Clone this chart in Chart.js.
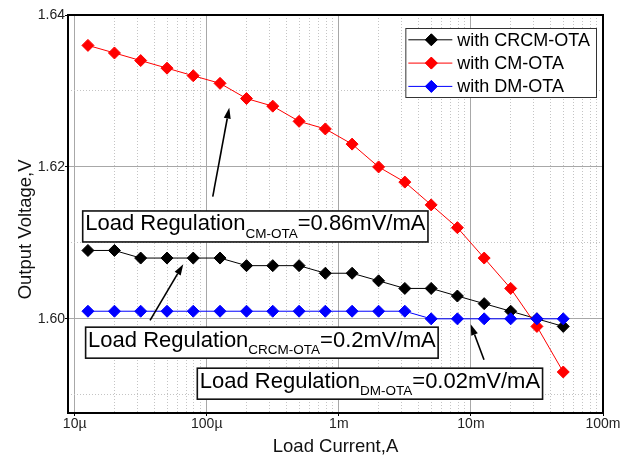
<!DOCTYPE html>
<html>
<head>
<meta charset="utf-8">
<script src="https://cdn.jsdelivr.net/npm/chart.js@4"></script>
<style>
  html, body { margin: 0; padding: 0; background: #fff; }
</style>
</head>
<body>
<canvas id="chart" width="633" height="459"></canvas>
<script>
// values (load current in A, output voltage in V)
const loadCurrent = [12.6e-6, 20e-6, 31.6e-6, 50e-6, 79e-6, 126e-6, 200e-6, 316e-6, 500e-6, 790e-6,
  1.26e-3, 2e-3, 3.16e-3, 5e-3, 7.9e-3, 12.6e-3, 20e-3, 31.6e-3, 50e-3];
const vCRCM = [1.609, 1.609, 1.608, 1.608, 1.608, 1.608, 1.607, 1.607, 1.607, 1.606,
  1.606, 1.605, 1.604, 1.604, 1.603, 1.602, 1.601, 1.600, 1.599];
const vCM = [1.636, 1.635, 1.634, 1.633, 1.632, 1.631, 1.629, 1.628, 1.626, 1.625,
  1.623, 1.620, 1.618, 1.615, 1.612, 1.608, 1.604, 1.599, 1.593];
const vDM = [1.601, 1.601, 1.601, 1.601, 1.601, 1.601, 1.601, 1.601, 1.601, 1.601,
  1.601, 1.601, 1.601, 1.600, 1.600, 1.600, 1.600, 1.600, 1.600];
const seriesNames = ['with CRCM-OTA', 'with CM-OTA', 'with DM-OTA'];
const seriesColors = ['#000000', '#ff0000', '#0000ff'];

const xTickValues = [1e-5, 1e-4, 1e-3, 1e-2, 1e-1];
const xTickLabels = ['10\u00b5', '100\u00b5', '1m', '10m', '100m'];
const yGridValues = [1.59, 1.60, 1.61, 1.62, 1.63, 1.64];
const yTickValues = [1.60, 1.62, 1.64];
const yTickLabels = ['1.60', '1.62', '1.64'];

const regulationNames = ['CM-OTA', 'CRCM-OTA', 'DM-OTA'];
const regulationValues = ['=0.86mV/mA', '=0.2mV/mA', '=0.02mV/mA'];

// where the callouts sit, in data coordinates (box top-left, arrow tail, arrow head)
const calloutPlaces = [
  { box: [11.5e-6, 1.6142], tail: [111e-6, 1.6161], head: [148e-6, 1.6278] },
  { box: [12.1e-6, 1.5989], tail: [37.2e-6, 1.5998], head: [66.4e-6, 1.6072] },
  { box: [84.8e-6, 1.5935], tail: [12.56e-3, 1.5946], head: [9.96e-3, 1.5993] }
];

const FONT = '"Liberation Sans", Arial, sans-serif';

const isDecade = v => Math.abs(Math.log10(v) - Math.round(Math.log10(v))) < 1e-6;
const isYMajor = v => yTickValues.some(t => Math.abs(t - v) < 1e-9);

function drawArrow(ctx, x1, y1, x2, y2) {
  const a = Math.atan2(y2 - y1, x2 - x1);
  const len = 11, hw = 3.5;
  const bx = x2 - Math.cos(a) * len, by = y2 - Math.sin(a) * len;
  ctx.beginPath();
  ctx.moveTo(x1, y1);
  ctx.lineTo(bx, by);
  ctx.stroke();
  ctx.beginPath();
  ctx.moveTo(x2, y2);
  ctx.lineTo(bx + Math.sin(a) * hw, by - Math.cos(a) * hw);
  ctx.lineTo(bx - Math.sin(a) * hw, by + Math.cos(a) * hw);
  ctx.closePath();
  ctx.fill();
}

const overlayPlugin = {
  id: 'overlay',
  afterDatasetsDraw(chart) {
    const { ctx, chartArea: area, scales: { x, y } } = chart;
    ctx.save();

    // frame round the plot
    ctx.strokeStyle = '#000';
    ctx.lineWidth = 2;
    ctx.strokeRect(area.left, area.top, area.right - area.left, area.bottom - area.top);

    // legend box inside the plot, top right
    ctx.font = '18px ' + FONT;
    const textW = Math.max(...chart.data.datasets.map(d => ctx.measureText(d.label).width));
    const lw = 52 + textW + 6, lh = 69;
    const lx = area.right - 7 - lw, ly = area.top + 13;
    ctx.fillStyle = '#fff';
    ctx.fillRect(lx, ly, lw, lh);
    ctx.strokeStyle = '#333';
    ctx.lineWidth = 1;
    ctx.strokeRect(lx + 0.5, ly + 0.5, lw, lh);
    chart.data.datasets.forEach((d, i) => {
      const ry = ly + 11.8 + i * 23.3;
      ctx.strokeStyle = d.borderColor;
      ctx.lineWidth = 1;
      ctx.beginPath();
      ctx.moveTo(lx + 3, ry);
      ctx.lineTo(lx + 47, ry);
      ctx.stroke();
      ctx.fillStyle = d.borderColor;
      Chart.helpers.drawPoint(ctx, { pointStyle: 'rectRot', radius: 6, borderWidth: 1 }, lx + 26, ry);
      ctx.fill();
      ctx.fillStyle = '#000';
      ctx.textBaseline = 'middle';
      ctx.textAlign = 'left';
      ctx.fillText(d.label, lx + 52, ry + 1);
    });

    // load regulation callouts
    ctx.textBaseline = 'alphabetic';
    regulationNames.forEach((name, i) => {
      const p = calloutPlaces[i];
      const bx = x.getPixelForValue(p.box[0]);
      const by = y.getPixelForValue(p.box[1]);
      ctx.font = '22px ' + FONT;
      const w1 = ctx.measureText('Load Regulation').width;
      const w3 = ctx.measureText(regulationValues[i]).width;
      ctx.font = '13.5px ' + FONT;
      const w2 = ctx.measureText(name).width;
      const bw = w1 + w2 + w3 + 5, bh = 31;
      ctx.fillStyle = '#fff';
      ctx.fillRect(bx, by, bw, bh);
      ctx.strokeStyle = '#111';
      ctx.lineWidth = 1.6;
      ctx.strokeRect(bx, by, bw, bh);
      ctx.fillStyle = '#000';
      const base = by + 19.5;
      ctx.font = '22px ' + FONT;
      ctx.fillText('Load Regulation', bx + 2.5, base);
      ctx.fillText(regulationValues[i], bx + 2.5 + w1 + w2, base);
      ctx.font = '13.5px ' + FONT;
      ctx.fillText(name, bx + 2.5 + w1, base + 7.5);

      ctx.strokeStyle = '#000';
      ctx.lineWidth = 1.6;
      drawArrow(ctx,
        x.getPixelForValue(p.tail[0]), y.getPixelForValue(p.tail[1]),
        x.getPixelForValue(p.head[0]), y.getPixelForValue(p.head[1]));
    });
    ctx.restore();
  }
};

const values = [vCRCM, vCM, vDM];
const datasets = values.map((vals, i) => ({
  label: seriesNames[i],
  data: loadCurrent.map((c, j) => ({ x: c, y: vals[j] })),
  borderColor: seriesColors[i],
  backgroundColor: seriesColors[i],
  borderWidth: 1,
  pointStyle: 'rectRot',
  pointRadius: 6,
  pointBorderWidth: 1,
  order: 3 - i
}));

new Chart(document.getElementById('chart'), {
  type: 'line',
  data: { datasets },
  options: {
    responsive: false,
    animation: false,
    devicePixelRatio: 1,
    layout: { padding: { top: 15, right: 30, left: 0, bottom: 0 } },
    plugins: {
      legend: { display: false },
      tooltip: { enabled: false }
    },
    scales: {
      x: {
        type: 'logarithmic',
        min: 8.9e-6,
        max: 0.1,
        afterBuildTicks: scale => {
          const ticks = [];
          xTickValues.forEach((d, k) => {
            ticks.push({ value: d });
            if (k < xTickValues.length - 1) {
              for (let m = 2; m <= 9; m++) ticks.push({ value: d * m });
            }
          });
          scale.ticks = ticks;
        },
        afterFit: scale => { scale.height = 46; },
        border: {
          display: false,
          dash: c => (c.tick && isDecade(c.tick.value)) ? [] : [1, 2]
        },
        grid: {
          color: c => (c.tick && isDecade(c.tick.value)) ? '#a8a8a8' : '#c4c4c4',
          tickColor: c => (c.tick && isDecade(c.tick.value)) ? '#000' : 'rgba(0,0,0,0)',
          tickLength: 3,
          lineWidth: 1
        },
        ticks: {
          autoSkip: false,
          maxRotation: 0,
          padding: 0,
          color: '#222',
          font: { family: FONT, size: 14 },
          callback: v => {
            const i = xTickValues.findIndex(t => Math.abs(t - v) / t < 1e-6);
            return i >= 0 ? xTickLabels[i] : '';
          }
        },
        title: {
          display: true,
          text: 'Load Current,A',
          color: '#111',
          font: { family: FONT, size: 18.5 },
          padding: { top: 0, bottom: 1 }
        }
      },
      y: {
        type: 'linear',
        min: 1.5876,
        max: 1.64,
        afterBuildTicks: scale => {
          scale.ticks = yGridValues.map(v => ({ value: v }));
        },
        afterFit: scale => { scale.width = 68; },
        border: {
          display: false,
          dash: c => (c.tick && isYMajor(c.tick.value)) ? [] : [1, 2]
        },
        grid: {
          color: c => (c.tick && isYMajor(c.tick.value)) ? '#a8a8a8' : '#c4c4c4',
          tickColor: c => (c.tick && isYMajor(c.tick.value)) ? '#000' : 'rgba(0,0,0,0)',
          tickLength: 3,
          lineWidth: 1
        },
        ticks: {
          autoSkip: false,
          padding: 0,
          color: '#222',
          font: { family: FONT, size: 14 },
          callback: v => {
            const i = yTickValues.findIndex(t => Math.abs(t - v) < 1e-9);
            return i >= 0 ? yTickLabels[i] : '';
          }
        },
        title: {
          display: true,
          text: 'Output Voltage,V      ',
          color: '#111',
          font: { family: FONT, size: 18.5 },
          padding: { top: 15, bottom: 0 }
        }
      }
    }
  },
  plugins: [overlayPlugin]
});
</script>
</body>
</html>
